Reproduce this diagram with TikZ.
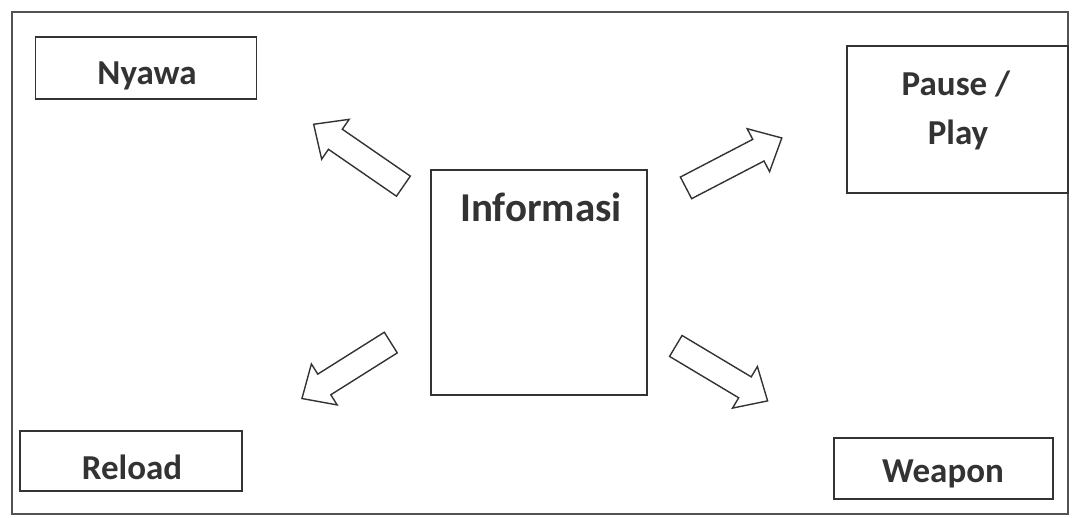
\documentclass[tikz,border=0pt]{standalone}
\usepackage{fontspec}
\setmainfont{Carlito}
\usetikzlibrary{shapes.arrows}
\definecolor{ink}{HTML}{333333}
\tikzset{
  lbl/.style={font=\bfseries\fontsize{35}{40}\selectfont, text=ink, inner sep=0pt},
  box/.style={draw=ink, line width=1.5pt, inner sep=0pt},
  barrow/.style={draw=ink, line width=1.4pt, single arrow, inner xsep=0pt, inner ysep=11.5pt,
    single arrow head extend=12pt, single arrow tip angle=85}
}
\begin{document}
\begin{tikzpicture}[x=1pt,y=-1pt]
\useasboundingbox (0,0) rectangle (1080,518);
\fill[white] (0,0) rectangle (1080,518);
\node[draw=ink!85, line width=1.4pt, minimum width=1056pt, minimum height=502pt, inner sep=0pt] (frame) at (540,263) {};
\node[box, minimum width=221pt, minimum height=62pt] (nyawa) at (146,68) {};
\node[lbl] (nyawatxt) at (147,76) {Nyawa};
\node[box, minimum width=221pt, minimum height=147pt] (pause) at (957.5,119.5) {};
\node[lbl] (pausetxt) at (956,84) {Pause /};
\node[lbl] (playtxt) at (958,135) {Play};
\node[box, minimum width=216pt, minimum height=225pt] (info) at (539,282.5) {};
\node[lbl, font=\bfseries\fontsize{41}{48}\selectfont] (infotxt) at (541,207) {Informasi};
\node[box, minimum width=222pt, minimum height=60pt] (reload) at (131,461) {};
\node[lbl] (reloadtxt) at (132,467) {Reload};
\node[box, minimum width=219pt, minimum height=61pt] (weapon) at (943.5,468.5) {};
\node[lbl] (weapontxt) at (943,474) {Weapon};
\node[barrow, minimum height=109pt, rotate=145.4] (anw) at (364,159) {};
\node[barrow, minimum height=108pt, rotate=27.5] (ane) at (728,166) {};
\node[barrow, minimum height=105pt, rotate=212.2] (asw) at (352,367) {};
\node[barrow, minimum height=107pt, rotate=-30.9] (ase) at (716,370) {};
\end{tikzpicture}
\end{document}
